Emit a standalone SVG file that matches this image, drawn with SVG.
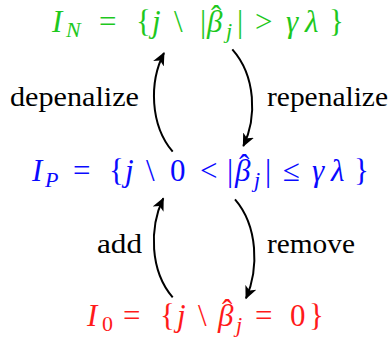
<svg xmlns="http://www.w3.org/2000/svg" width="389" height="341" viewBox="0 0 389 341">
<style>
text{font-family:"Liberation Serif","Times New Roman","DejaVu Serif",serif;font-size:31px;}
.s{font-size:22px;}
.i{font-style:italic;}
.n{font-style:normal;}
.g{fill:#1ec81e;}
.b{fill:#0a0aff;}
.r{fill:#ff1a1a;}
.lbl{font-size:28px;fill:#000;}
.arr{fill:none;stroke:#000;stroke-width:2;marker-end:url(#ah);}
</style>
<defs>
<marker id="ah" markerUnits="userSpaceOnUse" markerWidth="14" markerHeight="14" refX="12" refY="6" orient="auto" viewBox="0 0 14 12">
<path d="M0,0 L13,6 L0,12 L3.5,6 Z" fill="#000"/>
</marker>
</defs>
<g id="IN">
<text class="g"><tspan class="i" x="52" y="32">I</tspan><tspan class="s i" x="66" y="37">N</tspan><tspan x="99" y="32">=</tspan><tspan x="136" y="32">{</tspan><tspan class="i" x="152" y="32">j</tspan><tspan x="174" y="32">\</tspan><tspan x="200" y="32">|</tspan><tspan class="i" x="207" y="32">β</tspan><tspan x="211" y="27">ˆ</tspan><tspan class="s i" x="226" y="38">j</tspan><tspan x="237" y="32">|</tspan><tspan x="255" y="32">&gt;</tspan><tspan class="i" x="286" y="32">γ</tspan><tspan class="i" x="305" y="32">λ</tspan><tspan x="329" y="32">}</tspan></text>
</g>
<g id="IP">
<text class="b"><tspan class="i" x="32" y="181">I</tspan><tspan class="s i" x="45" y="187">P</tspan><tspan x="73" y="181">=</tspan><tspan x="109" y="181">{</tspan><tspan class="i" x="125" y="181">j</tspan><tspan x="146" y="181">\</tspan><tspan x="170" y="181">0</tspan><tspan x="200" y="181">&lt;</tspan><tspan x="227" y="181">|</tspan><tspan class="i" x="235" y="181">β</tspan><tspan x="239" y="176">ˆ</tspan><tspan class="s i" x="254" y="187">j</tspan><tspan x="265" y="181">|</tspan><tspan x="283" y="181">≤</tspan><tspan class="i" x="312" y="181">γ</tspan><tspan class="i" x="331" y="181">λ</tspan><tspan x="354" y="181">}</tspan></text>
</g>
<g id="I0">
<text class="r"><tspan class="i" x="87" y="326">I</tspan><tspan class="s" x="102" y="331">0</tspan><tspan x="123" y="326">=</tspan><tspan x="160" y="326">{</tspan><tspan class="i" x="177" y="326">j</tspan><tspan x="198" y="326">\</tspan><tspan class="i" x="218" y="326">β</tspan><tspan x="222" y="321">ˆ</tspan><tspan class="s i" x="236" y="332">j</tspan><tspan x="255" y="326">=</tspan><tspan x="290" y="326">0</tspan><tspan x="309" y="326">}</tspan></text>
</g>
<g id="labels">
<text class="lbl" x="10" y="106" textLength="129" lengthAdjust="spacingAndGlyphs">depenalize</text>
<text class="lbl" x="267" y="106" textLength="121" lengthAdjust="spacingAndGlyphs">repenalize</text>
<text class="lbl" x="97" y="253" textLength="45" lengthAdjust="spacingAndGlyphs">add</text>
<text class="lbl" x="267" y="253" textLength="88" lengthAdjust="spacingAndGlyphs">remove</text>
</g>
<g id="connectors">
<path class="arr" d="M172.7,151.7 C150,125 149,82 164,53"/>
<path class="arr" d="M232.3,49.3 C256,76 257,118 243.3,146"/>
<path class="arr" d="M172.7,297.3 C150,271 149,228 163.3,198.3"/>
<path class="arr" d="M235,199.3 C258,226 259,269 246,298.3"/>
</g>
</svg>
